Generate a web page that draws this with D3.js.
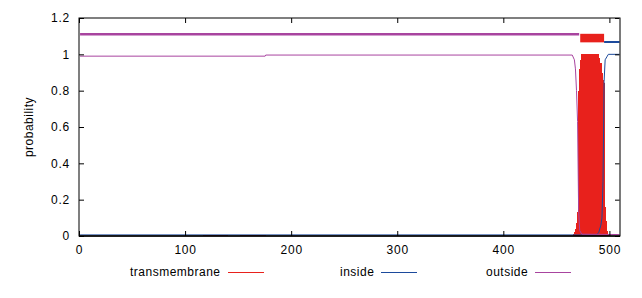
<!DOCTYPE html>
<html>
<head>
<meta charset="utf-8">
<script src="https://cdn.jsdelivr.net/npm/d3@7"></script>
<style>
body { margin: 0; background: #fff; }
text { font-family: "Liberation Sans", Arial, sans-serif; fill: #000; }
</style>
</head>
<body>
<svg id="chart" width="642" height="298"></svg>
<script>
// sequence and axis ticks
var seqLength = 510;
var xTicks = [0, 100, 200, 300, 400, 500];
var yTicks = [0, 0.2, 0.4, 0.6, 0.8, 1, 1.2];

// predicted topology (residue ranges)
var topoOutside = [1, 471.5];
var topoHelix = [472.5, 495];
var topoInside = [495, 510];

// transmembrane posterior, drawn as impulses
var tmPos = [117,118,119,120,121,122,123,124,125,126,127,128,129,130,131,132,133,134,135,136,137,138,139,140,
             152,153,154,155,156,157,158,159,160,161,162,163,164,165,166,167,168,169,170,171,172,173,174,175,176,
             466,467,468,469,470,471,472,473,474,475,476,477,478,479,480,481,482,483,484,485,486,487,488,489,490,
             491,492,493,494,495,496,497,498,499];
var tmProb = [0.008,0.008,0.008,0.008,0.008,0.008,0.008,0.008,0.008,0.008,0.008,0.008,0.008,0.008,0.008,0.008,0.008,0.008,0.008,0.008,0.008,0.008,0.008,0.008,
              0.008,0.008,0.008,0.008,0.008,0.008,0.008,0.008,0.008,0.008,0.008,0.008,0.008,0.008,0.008,0.008,0.008,0.008,0.008,0.008,0.008,0.008,0.008,0.008,0.008,
              0.01,0.02,0.04,0.07,0.13,0.8,0.92,0.97,1,1,1,1,1,1,1,1,1,1,1,1,1,1,1,1,1,
              0.98,0.95,0.9,0.86,0.84,0.16,0.08,0.03,0.01];

// inside posterior
var insidePos = [1, 488, 490, 492, 493, 494, 495, 496, 498, 499, 510];
var insideProb = [0.006, 0.006, 0.02, 0.06, 0.1, 0.3, 0.85, 0.97, 0.99, 1.0, 1.0];

// outside posterior
var outsidePos = [1, 175.5, 176, 465, 467, 468, 469, 470, 471, 472, 474, 510];
var outsideProb = [0.99, 0.99, 0.996, 0.996, 0.97, 0.92, 0.8, 0.63, 0.14, 0.03, 0.01, 0.008];

var legendNames = ["transmembrane", "inside", "outside"];

var colTm = "#e8211c", colIn = "#1c4a9c", colOut = "#a8449f";

var svg = d3.select("#chart");
var pLeft = 79, pRight = 620, pTop = 18, pBottom = 236;

var x = d3.scaleLinear().domain([0, seqLength]).range([pLeft, pRight]);
var y = d3.scaleLinear().domain([0, 1.2]).range([pBottom, pTop]);

//tm impulses
svg.append("g").selectAll("line")
    .data(tmPos.map(function(p, i) { return {p: p, v: tmProb[i]}; }))
    .enter().append("line")
    .attr("x1", function(d) { return x(d.p); })
    .attr("x2", function(d) { return x(d.p); })
    .attr("y1", y(0))
    .attr("y2", function(d) { return y(d.v); })
    .attr("stroke", colTm)
    .attr("stroke-width", 1.2)
    .attr("shape-rendering", "crispEdges");

var line = d3.line().x(function(d) { return x(d[0]); }).y(function(d) { return y(d[1]); });

svg.append("path")
    .attr("d", line(insidePos.map(function(p, i) { return [p, insideProb[i]]; })))
    .attr("fill", "none").attr("stroke", colIn).attr("stroke-width", 1);
svg.append("path")
    .attr("d", line(outsidePos.map(function(p, i) { return [p, outsideProb[i]]; })))
    .attr("fill", "none").attr("stroke", colOut).attr("stroke-width", 1);

//topology bar
svg.append("line")
    .attr("x1", x(topoOutside[0])).attr("x2", x(topoOutside[1]))
    .attr("y1", y(1.111)).attr("y2", y(1.111))
    .attr("stroke", colOut).attr("stroke-width", 2.5);
svg.append("rect")
    .attr("x", x(topoHelix[0])).attr("width", x(topoHelix[1]) - x(topoHelix[0]))
    .attr("y", y(1.113)).attr("height", y(1.066) - y(1.113))
    .attr("fill", colTm);
svg.append("line")
    .attr("x1", x(topoInside[0])).attr("x2", x(topoInside[1]))
    .attr("y1", y(1.068)).attr("y2", y(1.068))
    .attr("stroke", colIn).attr("stroke-width", 2);

//axes
var fmt = function(d) { return d3.format("~g")(d); };
var axB = svg.append("g").attr("transform", "translate(0," + pBottom + ")")
    .call(d3.axisBottom(x).tickValues(xTicks).tickSize(-5).tickPadding(9).tickFormat(fmt));
var axL = svg.append("g").attr("transform", "translate(" + pLeft + ",0)")
    .call(d3.axisLeft(y).tickValues(yTicks).tickSize(-5).tickPadding(9).tickFormat(fmt));
var axT = svg.append("g").attr("transform", "translate(0," + pTop + ")")
    .call(d3.axisTop(x).tickValues(xTicks).tickSize(-5).tickFormat(""));
var axR = svg.append("g").attr("transform", "translate(" + pRight + ",0)")
    .call(d3.axisRight(y).tickValues(yTicks).tickSize(-5).tickFormat(""));
[axB, axL, axT, axR].forEach(function(a) {
    a.select(".domain").remove();
    a.selectAll("text").style("font-size", "12px").style("letter-spacing", "0.8px")
        .attr("font-family", null).attr("fill", "#000");
});

svg.append("rect")
    .attr("x", pLeft).attr("y", pTop).attr("width", pRight - pLeft).attr("height", pBottom - pTop)
    .attr("fill", "none").attr("stroke", "#000").attr("stroke-width", 1);
svg.append("line").attr("x1", pRight).attr("x2", pRight).attr("y1", pTop).attr("y2", pBottom)
    .attr("stroke", "#777").attr("stroke-width", 1);
svg.append("line").attr("x1", pLeft).attr("x2", pRight).attr("y1", pBottom).attr("y2", pBottom)
    .attr("stroke", "#000").attr("stroke-width", 1.5);

svg.append("text")
    .attr("transform", "translate(33," + ((pTop + pBottom) / 2) + ") rotate(-90)")
    .attr("text-anchor", "middle")
    .style("font-size", "12px").style("letter-spacing", "0.5px")
    .text("probability");

//legend
var legendX = [130, 340, 486];
var legendCols = [colTm, colIn, colOut];
var lg = svg.append("g").selectAll("g").data(legendNames).enter().append("g");
lg.append("text")
    .attr("x", function(d, i) { return legendX[i]; })
    .attr("y", 276)
    .style("font-size", "12px").style("letter-spacing", "0.5px")
    .text(function(d) { return d; });
lg.each(function(d, i) {
    var w = d3.select(this).select("text").node().getComputedTextLength();
    d3.select(this).append("line")
        .attr("x1", legendX[i] + w + 7).attr("x2", legendX[i] + w + 43)
        .attr("y1", 272.5).attr("y2", 272.5)
        .attr("stroke", legendCols[i]).attr("stroke-width", 1.2)
        .attr("shape-rendering", "crispEdges");
});
</script>
</body>
</html>
